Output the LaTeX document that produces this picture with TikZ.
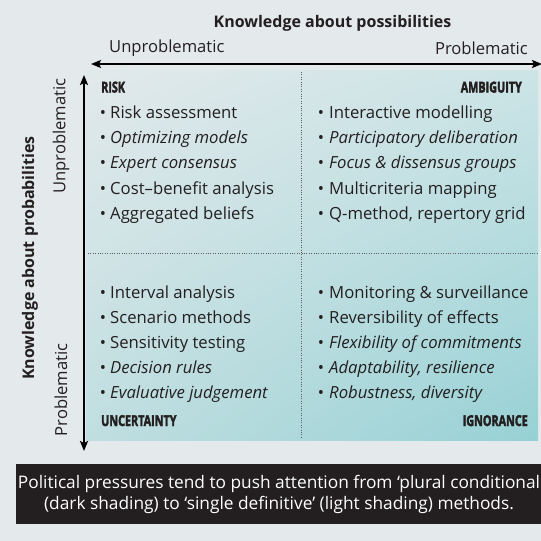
\documentclass[tikz,border=0pt]{standalone}
\usepackage{fontspec}
\setmainfont{Open Sans}
\newfontfamily\catfont[BoldFeatures={FakeBold=3}]{Open Sans}
\usetikzlibrary{arrows.meta,shadings}
\definecolor{bg}{HTML}{E4E9EC}
\definecolor{ink}{HTML}{231F20}
\definecolor{ptl}{HTML}{E2E9EB}
\definecolor{ptr}{HTML}{CCE4E6}
\definecolor{pbl}{HTML}{C0DEE0}
\definecolor{pbr}{HTML}{97D1D5}
\definecolor{dotc}{HTML}{5A5F62}
\begin{document}
\begin{tikzpicture}[x=1pt,y=-1pt,
  lbl/.style={inner sep=0pt, font=\fontsize{16.6}{19}\selectfont, text=ink},
  ttl/.style={inner sep=0pt, font=\fontsize{16}{19}\selectfont\bfseries, text=ink},
  item/.style={inner sep=0pt, anchor=base west, font=\fontsize{16.7}{19}\selectfont, text=ink},
  ital/.style={inner sep=0pt, anchor=base west, font=\fontsize{16.7}{19}\selectfont\itshape, text=ink},
  bul/.style={inner sep=0pt, anchor=base, font=\fontsize{16.5}{19}\selectfont, text=ink},
  cat/.style={inner sep=0pt, font=\fontsize{15}{18}\selectfont\catfont\bfseries, text=ink},
  axisarrow/.style={line width=2pt, {Stealth[length=10pt,width=8pt,inset=2pt]}-{Stealth[length=10pt,width=8pt,inset=2pt]}},
  gridline/.style={dotc, line width=0.8pt, dash pattern=on 0.8pt off 1.6pt},
  note/.style={inner sep=0pt, font=\fontsize{17.3}{20}\selectfont, text=white}]
\useasboundingbox (0,0) rectangle (541,541);
\fill[bg] (0,0) rectangle (541,541);
% panel
\shade[upper left=ptl, upper right=ptr, lower left=pbl, lower right=pbr] (86,70) rectangle (538,440);
\draw[gridline] (301,72) -- (301,437);
\draw[gridline] (88,253) -- (538,253);
% axes
\coordinate (hl) at (91,64);
\coordinate (hr) at (542,64);
\coordinate (vt) at (84,75);
\coordinate (vb) at (84,451);
\draw[axisarrow] (hl) -- (hr);
\draw[axisarrow] (vt) -- (vb);
% axis labels
\node[ttl] (ttop) at (332.5,23) {Knowledge about possibilities};
\node[lbl, anchor=west] (hun) at (109,48) {Unproblematic};
\node[lbl, anchor=east] (hpr) at (528,48) {Problematic};
\node[ttl, rotate=90] (tleft) at (30,258) {Knowledge about probabilities};
\node[lbl, rotate=90] (vun) at (61,136) {Unproblematic};
\node[lbl, rotate=90] (vpr) at (61,390) {Problematic};
% category labels
\node[cat, anchor=base west] (risk) at (101,92.5) {\scalebox{0.72}[1]{RISK}};
\node[cat, anchor=base east] (amb) at (522,92.5) {\scalebox{0.72}[1]{AMBIGUITY}};
\node[cat, anchor=base west] (unc) at (101,426) {\scalebox{0.72}[1]{UNCERTAINTY}};
\node[cat, anchor=base east] (ign) at (528,426) {\scalebox{0.72}[1]{IGNORANCE}};
% risk list
\node[bul] (b1) at (103,118) {•};   \node[item] (r1) at (110,118) {Risk assessment};
\node[bul] (b2) at (103,143.3) {•}; \node[ital] (r2) at (110,143.3) {Optimizing models};
\node[bul] (b3) at (103,168.6) {•}; \node[ital] (r3) at (110,168.6) {Expert consensus};
\node[bul] (b4) at (103,194) {•};   \node[item] (r4) at (110,194) {Cost–benefit analysis};
\node[bul] (b5) at (103,219) {•};   \node[item] (r5) at (110,219) {Aggregated beliefs};
% ambiguity list
\node[bul] (c1) at (321,118) {•};   \node[item] (a1) at (329,118) {Interactive modelling};
\node[bul] (c2) at (321,143.3) {•}; \node[ital] (a2) at (329,143.3) {Participatory deliberation};
\node[bul] (c3) at (321,168.6) {•}; \node[ital] (a3) at (329,168.6) {Focus \& dissensus groups};
\node[bul] (c4) at (321,194) {•};   \node[item] (a4) at (329,194) {Multicriteria mapping};
\node[bul] (c5) at (321,219) {•};   \node[item] (a5) at (329,219) {Q-method, repertory grid};
% uncertainty list
\node[bul] (d1) at (103,298) {•}; \node[item] (u1) at (110,298) {Interval analysis};
\node[bul] (d2) at (103,323) {•}; \node[item] (u2) at (110,323) {Scenario methods};
\node[bul] (d3) at (103,348) {•}; \node[item] (u3) at (110,348) {Sensitivity testing};
\node[bul] (d4) at (103,373) {•}; \node[ital] (u4) at (110,373) {Decision rules};
\node[bul] (d5) at (103,398) {•}; \node[ital] (u5) at (110,398) {Evaluative judgement};
% ignorance list
\node[bul] (e1) at (321,298) {•}; \node[item] (g1) at (329,298) {Monitoring \& surveillance};
\node[bul] (e2) at (321,323) {•}; \node[item] (g2) at (329,323) {Reversibility of effects};
\node[bul] (e3) at (321,348) {•}; \node[ital] (g3) at (329,348) {Flexibility of commitments};
\node[bul] (e4) at (321,373) {•}; \node[ital] (g4) at (329,373) {Adaptability, resilience};
\node[bul] (e5) at (321,398) {•}; \node[ital] (g5) at (329,398) {Robustness, diversity};
% bottom note
\fill[ink] (15.5,464) rectangle (545,524);
\node[note] (n1) at (279,484) {Political pressures tend to push attention from ‘plural conditional};
\node[note] (n2) at (279,505) {(dark shading) to ‘single definitive’ (light shading) methods.};
\end{tikzpicture}
\end{document}
